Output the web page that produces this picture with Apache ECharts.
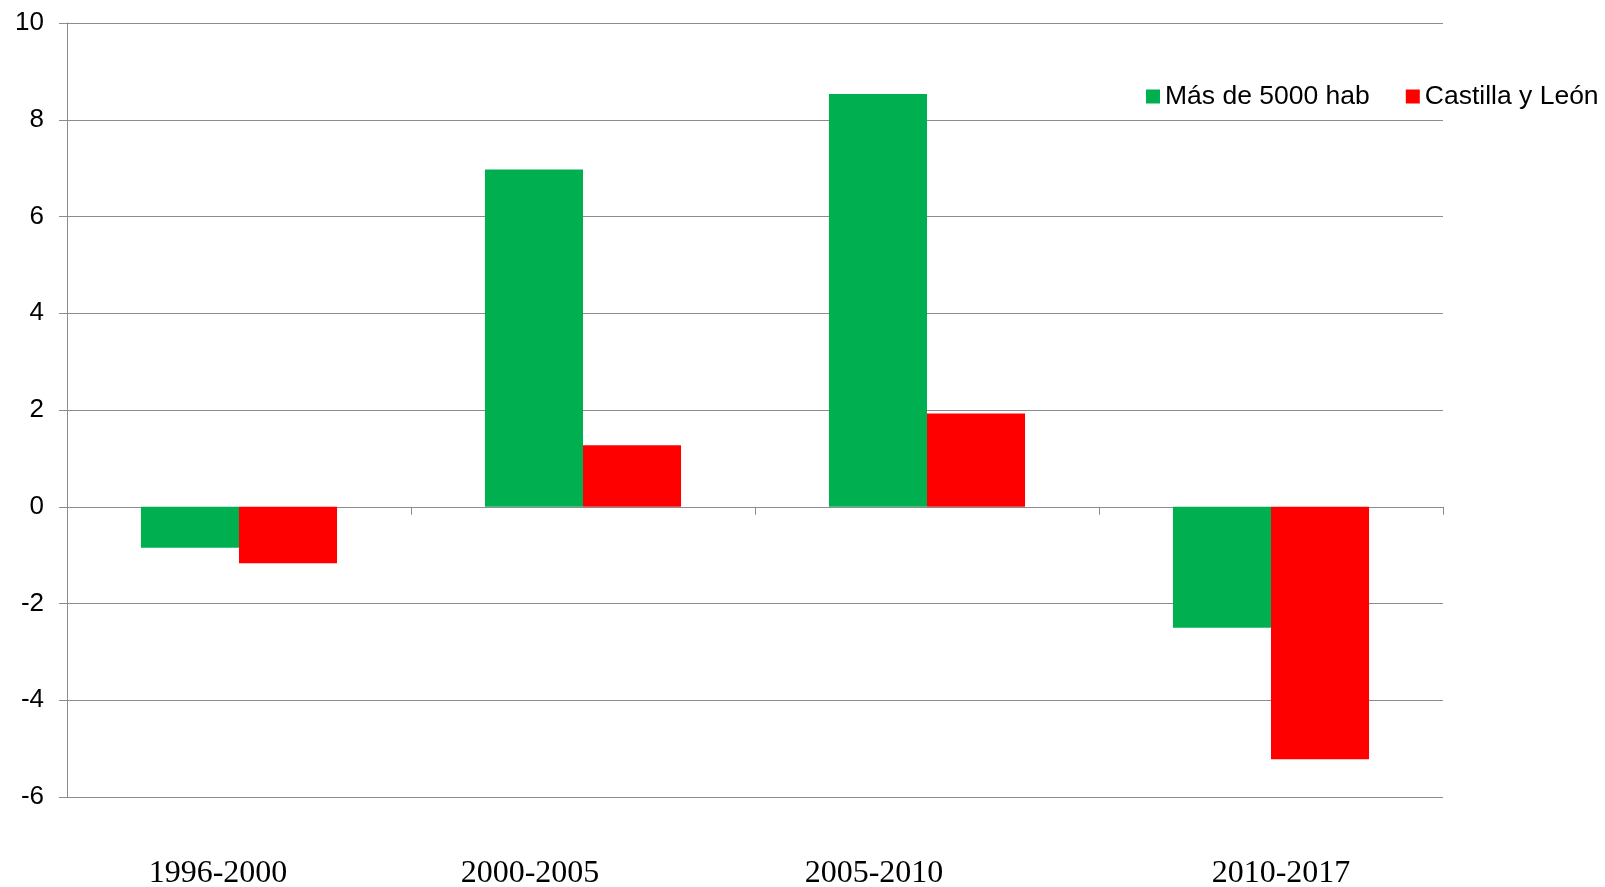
<!DOCTYPE html>
<html>
<head>
<meta charset="utf-8">
<script src="https://cdn.jsdelivr.net/npm/echarts@6/dist/echarts.min.js"></script>
<style>
html, body { margin: 0; padding: 0; background: #fff; }
#chart { width: 1605px; height: 887px; }
</style>
</head>
<body>
<div id="chart"></div>
<script>
const categories = ['1996-2000', '2000-2005', '2005-2010', '2010-2017'];
const masDe5000 = [-0.85, 6.97, 8.53, -2.5];
const castillaLeon = [-1.17, 1.27, 1.93, -5.22];
const seriesNames = ['Más de 5000 hab', 'Castilla y León'];

// horizontal nudge of the bottom labels (px), like in the original
const labelShift = [-21, -53, -53, 10];

const gridColor = '#8c8c8c';

const chart = echarts.init(document.getElementById('chart'));

const bottomLabels = categories.map((c, i) => {
    const s = labelShift[i];
    return {
        value: c,
        textStyle: {
            padding: s < 0 ? [0, -2 * s, 0, 0] : [0, 0, 0, 2 * s]
        }
    };
});

const option = {
    animation: false,
    grid: {
        left: 67,
        right: 162,
        top: 23,
        bottom: 90,
        containLabel: false,
        outerBoundsMode: 'none'
    },
    legend: {
        orient: 'horizontal',
        left: 1146,
        top: 83,
        width: 520,
        icon: 'rect',
        itemWidth: 14,
        itemHeight: 14,
        itemGap: 36,
        padding: 0,
        textStyle: {
            fontFamily: 'Liberation Sans',
            fontSize: 26.5,
            color: '#000'
        },
        data: seriesNames
    },
    xAxis: [
        {
            type: 'category',
            data: categories,
            axisLine: { onZero: true, lineStyle: { color: gridColor, width: 1 } },
            axisTick: { show: true, inside: false, length: 8, lineStyle: { color: gridColor } },
            axisLabel: { show: false }
        },
        {
            type: 'category',
            position: 'bottom',
            data: bottomLabels,
            axisLine: { show: false, onZero: false },
            axisTick: { show: false },
            axisLabel: {
                margin: 61,
                fontFamily: 'Liberation Serif',
                fontSize: 32,
                color: '#000'
            }
        }
    ],
    yAxis: {
        type: 'value',
        min: -6,
        max: 10,
        interval: 2,
        axisLine: { show: true, lineStyle: { color: gridColor, width: 1 } },
        axisTick: { show: true, length: 8, lineStyle: { color: gridColor } },
        splitLine: { show: true, lineStyle: { color: gridColor, width: 1 } },
        axisLabel: {
            margin: 23,
            fontFamily: 'Liberation Sans',
            fontSize: 26,
            color: '#000'
        }
    },
    series: [
        {
            name: seriesNames[0],
            type: 'bar',
            xAxisIndex: 0,
            data: masDe5000,
            barGap: 0,
            barCategoryGap: '43%',
            itemStyle: { color: '#00b050' }
        },
        {
            name: seriesNames[1],
            type: 'bar',
            xAxisIndex: 0,
            data: castillaLeon,
            barGap: 0,
            barCategoryGap: '43%',
            itemStyle: { color: '#ff0000' }
        }
    ]
};

chart.setOption(option);
</script>
</body>
</html>
